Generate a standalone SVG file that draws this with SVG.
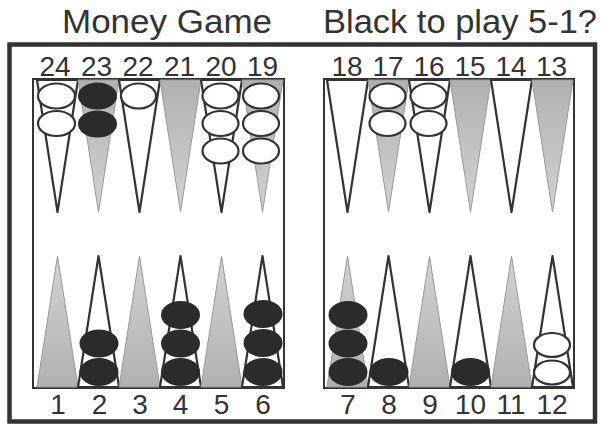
<svg xmlns="http://www.w3.org/2000/svg" width="602" height="424" viewBox="0 0 602 424">
<style>
.t{font-family:"Liberation Sans",Arial,sans-serif;fill:#333}
.title{font-size:33px}
.num{font-size:28px;text-anchor:middle}
.board{fill:#fff;stroke:#333;stroke-width:2}
.pw{fill:#fff;stroke:#333;stroke-width:2.2;stroke-linejoin:round}
.gt{fill:url(#gTop);stroke:#999;stroke-width:1}
.gb{fill:url(#gBot);stroke:#999;stroke-width:1}
.w{fill:#fff;stroke:#333;stroke-width:2.2}
.b{fill:#2b2b2b;stroke:#2b2b2b;stroke-width:2}
</style>
<defs>
<linearGradient id="gTop" x1="0" y1="0" x2="0" y2="1">
<stop offset="0" stop-color="#b0b0b0"/><stop offset="0.25" stop-color="#bababa"/><stop offset="1" stop-color="#d2d2d2"/>
</linearGradient>
<linearGradient id="gBot" x1="0" y1="1" x2="0" y2="0">
<stop offset="0" stop-color="#b0b0b0"/><stop offset="0.25" stop-color="#bababa"/><stop offset="1" stop-color="#d2d2d2"/>
</linearGradient>
</defs>
<rect width="602" height="424" fill="#fff"/>
<g id="titles">
<text class="t title" x="62" y="33" textLength="210" lengthAdjust="spacingAndGlyphs">Money Game</text>
<text class="t title" x="323" y="33" textLength="274" lengthAdjust="spacingAndGlyphs">Black to play 5-1?</text>
</g>
<g id="frame">
<rect x="9.5" y="44.5" width="585.5" height="377" fill="none" stroke="#333" stroke-width="4.5"/>
<rect id="board-left" class="board" x="33" y="79" width="251" height="309"/>
<rect id="board-right" class="board" x="324" y="79" width="250" height="309"/>
</g>
<g id="points">
<polygon id="p24" class="pw" points="37,80 78,80 57.5,212"/>
<polygon id="p23" class="gt" points="78,80 119,80 98.5,212"/>
<polygon id="p22" class="pw" points="119,80 160,80 139.5,212"/>
<polygon id="p21" class="gt" points="160,80 201,80 180.5,212"/>
<polygon id="p20" class="pw" points="201,80 242,80 221.5,212"/>
<polygon id="p19" class="gt" points="242,80 283,80 262.5,212"/>
<polygon id="p18" class="pw" points="327,80 368,80 347.5,212"/>
<polygon id="p17" class="gt" points="368,80 409,80 388.5,212"/>
<polygon id="p16" class="pw" points="409,80 450,80 429.5,212"/>
<polygon id="p15" class="gt" points="450,80 491,80 470.5,212"/>
<polygon id="p14" class="pw" points="491,80 532,80 511.5,212"/>
<polygon id="p13" class="gt" points="532,80 573,80 552.5,212"/>
<polygon id="p1" class="gb" points="37,387 78,387 57.5,256"/>
<polygon id="p2" class="pw" points="78,387 119,387 98.5,256"/>
<polygon id="p3" class="gb" points="119,387 160,387 139.5,256"/>
<polygon id="p4" class="pw" points="160,387 201,387 180.5,256"/>
<polygon id="p5" class="gb" points="201,387 242,387 221.5,256"/>
<polygon id="p6" class="pw" points="242,387 283,387 262.5,256"/>
<polygon id="p7" class="gb" points="327,387 368,387 347.5,256"/>
<polygon id="p8" class="pw" points="368,387 409,387 388.5,256"/>
<polygon id="p9" class="gb" points="409,387 450,387 429.5,256"/>
<polygon id="p10" class="pw" points="450,387 491,387 470.5,256"/>
<polygon id="p11" class="gb" points="491,387 532,387 511.5,256"/>
<polygon id="p12" class="pw" points="532,387 573,387 552.5,256"/>
</g>
<g id="checkers">
<g id="c24"><ellipse class="w" cx="56.5" cy="96" rx="18.5" ry="12.5"/><ellipse class="w" cx="56.5" cy="123.5" rx="18.5" ry="12.5"/></g>
<g id="c23"><ellipse class="b" cx="97.5" cy="96" rx="18.5" ry="12.5"/><ellipse class="b" cx="97.5" cy="124" rx="18.5" ry="12.5"/></g>
<g id="c22"><ellipse class="w" cx="138.5" cy="96" rx="17.5" ry="12.5"/></g>
<g id="c20"><ellipse class="w" cx="220.5" cy="96" rx="18" ry="12.5"/><ellipse class="w" cx="220.5" cy="123.5" rx="18" ry="12.5"/><ellipse class="w" cx="220.5" cy="151" rx="18" ry="12.5"/></g>
<g id="c19"><ellipse class="w" cx="261" cy="96" rx="18" ry="12.5"/><ellipse class="w" cx="261" cy="123.5" rx="18" ry="12.5"/><ellipse class="w" cx="261" cy="151" rx="18" ry="12.5"/></g>
<g id="c17"><ellipse class="w" cx="387.5" cy="96" rx="18" ry="12.5"/><ellipse class="w" cx="387.5" cy="123.5" rx="18" ry="12.5"/></g>
<g id="c16"><ellipse class="w" cx="428.5" cy="96" rx="18" ry="12.5"/><ellipse class="w" cx="428.5" cy="123.5" rx="18" ry="12.5"/></g>
<g id="c2"><ellipse class="b" cx="99" cy="343.5" rx="18.5" ry="13"/><ellipse class="b" cx="99" cy="372" rx="18.5" ry="13"/></g>
<g id="c4"><ellipse class="b" cx="180.5" cy="315" rx="18.5" ry="13"/><ellipse class="b" cx="180.5" cy="343.5" rx="18.5" ry="13"/><ellipse class="b" cx="180.5" cy="372" rx="18.5" ry="13"/></g>
<g id="c6"><ellipse class="b" cx="263" cy="314" rx="18.5" ry="13"/><ellipse class="b" cx="263" cy="343" rx="18.5" ry="13"/><ellipse class="b" cx="263" cy="372" rx="18.5" ry="13"/></g>
<g id="c7"><ellipse class="b" cx="348" cy="315" rx="18.5" ry="13"/><ellipse class="b" cx="348" cy="343.5" rx="18.5" ry="13"/><ellipse class="b" cx="348" cy="372" rx="18.5" ry="13"/></g>
<g id="c8"><ellipse class="b" cx="389" cy="372" rx="18.5" ry="13"/></g>
<g id="c10"><ellipse class="b" cx="470.5" cy="372" rx="18.5" ry="13"/></g>
<g id="c12"><ellipse class="w" cx="552" cy="345" rx="18" ry="12"/><ellipse class="w" cx="552" cy="372.5" rx="18" ry="12"/></g>
</g>
<g id="labels" class="t num">
<text x="55" y="76">24</text><text x="96.5" y="76">23</text><text x="138" y="76">22</text><text x="179.5" y="76">21</text><text x="221" y="76">20</text><text x="262.5" y="76">19</text>
<text x="347" y="76">18</text><text x="388" y="76">17</text><text x="429" y="76">16</text><text x="470" y="76">15</text><text x="511" y="76">14</text><text x="551.5" y="76">13</text>
<text x="58" y="414">1</text><text x="99.5" y="414">2</text><text x="140" y="414">3</text><text x="180.5" y="414">4</text><text x="221.5" y="414">5</text><text x="263" y="414">6</text>
<text x="348" y="414">7</text><text x="389" y="414">8</text><text x="430" y="414">9</text><text x="470.5" y="414">10</text><text x="511" y="414">11</text><text x="552" y="414">12</text>
</g>
</svg>
